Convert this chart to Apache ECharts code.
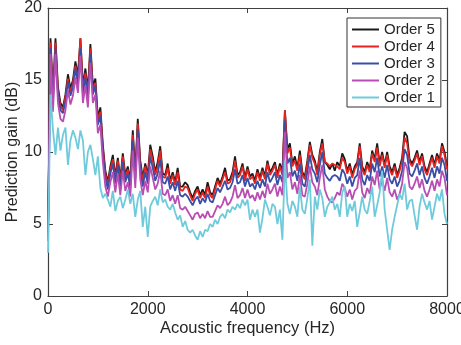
<!DOCTYPE html>
<html>
<head>
<meta charset="utf-8">
<script src="https://cdn.jsdelivr.net/npm/echarts@6/dist/echarts.min.js"></script>
<style>
  html, body { margin: 0; padding: 0; background: #fff; }
  #chart { width: 461px; height: 345px; }
</style>
</head>
<body>
<div id="chart"></div>
<script>
// frequency grid, Hz (one point every 50 Hz from 0 to 8000)
var freqStep = 50
var freqCount = 161

var seriesNames = ['Order 5', 'Order 4', 'Order 3', 'Order 2', 'Order 1']
var seriesColors = ['#1a1a1a', '#e8231f', '#3a4ea6', '#b84db3', '#6fcbdc']

// prediction gain, dB
var order5 = [4.5,17.9,14.0,17.9,14.5,13.4,13.1,14.0,15.4,14.4,
  15.0,16.3,15.3,17.9,14.6,15.8,14.3,17.5,14.6,15.1,
  12.4,13.1,10.5,8.7,7.9,9.0,9.8,8.3,9.6,8.1,
  9.9,8.4,9.0,8.0,11.5,8.6,12.3,9.4,8.2,9.2,
  8.4,10.5,9.7,8.6,9.3,10.4,8.5,8.4,9.2,8.0,
  8.6,7.9,8.9,7.6,7.6,7.9,7.7,7.2,6.8,7.3,
  7.6,7.0,7.4,7.0,7.9,7.2,7.0,7.6,8.2,7.8,
  8.3,8.9,8.0,8.1,8.6,9.7,8.4,8.6,9.2,8.2,
  9.0,8.3,8.5,8.0,8.8,8.2,8.9,8.3,9.4,8.6,
  8.9,9.3,8.4,9.2,8.6,12.9,10.2,10.6,9.2,9.7,
  8.9,10.1,8.6,8.3,9.4,10.7,9.8,9.4,8.6,10.0,
  10.9,9.3,9.1,8.8,9.2,8.7,9.3,9.0,9.9,9.5,
  8.7,9.2,8.4,9.0,9.3,10.6,9.0,8.6,9.3,8.8,
  10.1,9.5,10.6,9.2,10.0,9.1,10.0,9.0,8.6,9.2,
  8.4,8.9,9.6,11.4,11.1,9.5,9.2,9.6,10.1,9.3,
  9.9,9.0,8.6,9.2,9.8,9.1,9.9,9.4,10.6,10.0,
  9.0]

var order4 = [4.3,17.6,13.8,17.6,14.2,13.2,12.9,13.8,15.1,14.1,
  14.8,16.0,15.0,17.9,14.3,15.5,14.0,17.2,14.3,14.8,
  12.2,12.8,10.2,8.5,7.7,8.8,9.5,8.1,9.4,7.9,
  9.7,8.2,8.8,7.8,11.2,8.4,12.0,9.1,8.0,9.0,
  8.2,10.2,9.4,8.4,9.0,10.1,8.3,8.2,8.9,7.8,
  8.4,7.7,8.6,7.4,7.3,7.6,7.5,7.0,6.6,7.1,
  7.4,6.8,7.2,6.8,7.6,7.0,6.8,7.4,8.0,7.6,
  8.1,8.6,7.8,7.9,8.4,9.4,8.2,8.4,9.0,8.0,
  8.8,8.1,8.3,7.8,8.6,8.0,8.7,8.1,9.2,8.4,
  8.7,9.1,8.2,9.0,8.4,12.9,9.9,10.3,9.0,9.4,
  8.7,9.8,8.4,8.1,9.2,10.5,9.6,9.2,8.4,9.8,
  10.6,9.3,9.2,9.0,9.2,9.1,9.0,8.8,9.6,9.3,
  8.5,9.0,8.2,8.8,9.1,10.4,8.8,8.4,9.1,8.6,
  9.9,9.3,10.3,9.0,9.8,8.9,9.8,8.8,8.4,9.0,
  8.2,8.7,9.4,11.0,10.6,9.3,9.0,9.4,9.9,9.1,
  9.7,8.8,8.4,9.0,9.6,8.9,9.7,9.2,10.4,9.8,
  8.8]

var order3 = [4.0,17.2,13.5,17.2,14.0,12.9,12.7,13.5,14.9,13.9,
  14.5,15.8,14.7,17.2,14.0,15.2,13.7,16.8,14.0,14.6,
  11.9,12.5,9.9,8.2,7.4,8.5,9.2,7.8,9.1,7.6,
  9.3,7.9,8.5,7.5,10.8,8.1,11.6,8.7,7.6,8.6,
  7.8,9.7,8.9,8.0,8.5,9.5,7.9,7.8,8.3,7.4,
  7.9,7.3,8.0,7.0,6.9,7.1,6.9,6.6,6.3,6.7,
  6.9,6.4,6.8,6.5,7.1,6.6,6.5,7.0,7.5,7.2,
  7.6,8.0,7.4,7.5,7.9,8.8,7.8,7.9,8.4,7.6,
  8.2,7.6,7.8,7.4,8.0,7.5,8.1,7.6,8.6,7.9,
  8.2,8.6,7.7,8.4,7.9,12.2,9.2,9.6,8.3,8.7,
  8.0,9.2,7.8,7.6,8.6,9.8,8.8,8.5,7.9,9.1,
  10.0,8.5,8.2,8.0,8.3,8.4,8.3,8.0,8.8,8.5,
  7.8,8.3,7.6,8.2,8.4,9.6,8.1,7.7,8.4,8.0,
  9.2,8.6,9.6,8.3,9.0,8.2,9.1,8.1,7.8,8.3,
  7.6,8.0,8.7,10.2,9.8,8.5,8.3,8.7,9.2,8.4,
  9.0,8.2,7.8,8.3,8.9,8.2,9.0,8.5,9.6,9.1,
  8.0]

var order2 = [3.8,16.8,12.8,16.8,13.4,12.3,12.1,12.9,14.3,13.3,
  13.9,15.2,14.1,16.7,13.4,14.6,13.1,16.2,13.4,14.0,
  11.3,11.9,9.3,7.6,6.9,7.9,8.6,7.2,8.5,7.0,
  8.7,7.3,7.9,6.9,10.1,7.5,11.0,8.1,7.0,8.0,
  7.2,9.0,8.2,7.4,7.8,8.7,7.1,7.0,7.4,6.6,
  7.0,6.4,7.0,6.1,6.0,6.2,5.9,5.6,5.3,5.7,
  5.8,5.4,5.7,5.4,5.9,5.5,5.5,5.9,6.3,6.1,
  6.4,6.9,6.3,6.5,6.9,7.7,6.8,7.0,7.5,6.8,
  7.4,6.8,7.0,6.6,7.2,6.7,7.3,6.8,7.8,7.1,
  7.4,7.8,6.9,7.6,7.0,11.4,8.2,8.6,7.4,7.9,
  7.1,8.4,7.0,6.9,7.8,9.0,7.9,7.6,7.0,8.2,
  9.1,7.4,6.9,6.6,6.5,6.8,7.2,7.0,7.8,7.5,
  6.9,7.4,6.7,7.3,7.5,8.7,7.2,6.8,7.5,7.1,
  8.3,7.7,8.7,7.4,8.1,7.3,8.2,7.2,6.9,7.4,
  6.7,7.1,7.8,9.3,8.9,7.6,7.4,7.8,8.3,7.5,
  8.1,7.3,6.9,7.4,8.0,7.3,8.1,7.6,8.7,8.2,
  7.0]

var order1 = [3.0,14.0,11.5,9.8,11.7,10.1,11.2,11.7,9.1,10.8,
  11.5,11.0,10.2,11.5,10.8,8.4,10.0,10.5,9.5,8.4,
  9.7,7.5,6.8,7.1,6.7,6.2,7.3,5.9,6.6,6.9,
  6.1,6.7,7.4,6.4,7.1,5.5,6.7,7.3,4.8,6.2,
  4.1,6.2,6.6,6.9,6.3,7.4,6.5,6.7,6.2,6.0,
  6.4,5.8,5.3,5.6,4.8,5.2,4.6,4.4,4.6,4.2,
  3.9,4.5,4.1,4.6,4.5,5.0,4.8,5.3,5.0,5.5,
  5.7,5.4,6.0,5.8,6.2,6.0,6.4,6.1,6.7,6.3,
  6.7,5.3,6.0,5.5,6.0,4.4,5.4,6.7,6.2,5.6,
  6.4,6.2,5.0,6.0,3.9,9.4,6.4,5.7,6.6,6.2,
  5.5,7.6,6.0,5.7,6.8,8.1,3.5,6.9,6.0,7.4,
  6.8,5.5,6.2,6.5,6.9,6.0,6.4,5.5,7.2,7.6,
  5.5,6.4,5.9,6.6,4.8,5.8,6.9,6.0,5.7,6.6,
  7.6,5.5,6.3,7.2,8.7,6.0,4.6,3.2,4.6,5.5,
  6.3,7.1,6.7,7.8,6.0,6.6,6.7,5.6,4.6,6.2,
  7.1,6.5,6.0,6.6,5.3,6.2,7.1,6.6,7.4,5.7,
  5.0]

var allOrders = [order5, order4, order3, order2, order1]
var textColor = '#262626'
var axisColor = '#404040'
var font = 'Liberation Sans, Arial, Helvetica, sans-serif'

function toPairs(values) {
  var out = []
  for (var i = 0; i < freqCount; i++) {
    out.push([i * freqStep, values[i]])
  }
  return out
}

var chart = echarts.init(document.getElementById('chart'))

var axisBase = {
  type: 'value',
  axisLine: { show: true, onZero: false, lineStyle: { color: axisColor, width: 1.2 } },
  axisTick: { show: true, inside: true, length: 5, lineStyle: { color: axisColor } },
  splitLine: { show: false }
}

chart.setOption({
  backgroundColor: '#fff',
  animation: false,
  grid: {
    left: 48,
    right: 14,
    top: 8,
    bottom: 49,
    containLabel: false,
    outerBoundsMode: 'none'
  },
  legend: {
    orient: 'vertical',
    left: 347,
    top: 18,
    data: seriesNames,
    icon: 'rect',
    itemWidth: 27,
    itemHeight: 2,
    itemGap: 2,
    padding: [4, 6, 2, 5],
    borderColor: '#333',
    borderWidth: 1,
    backgroundColor: '#fff',
    textStyle: {
      color: textColor,
      fontSize: 15,
      fontFamily: font,
      lineHeight: 15
    }
  },
  xAxis: [
    Object.assign({}, axisBase, {
      min: 0,
      max: 8000,
      interval: 2000,
      position: 'bottom',
      name: 'Acoustic frequency (Hz)',
      nameLocation: 'middle',
      nameGap: 24,
      nameMoveOverlap: false,
      nameTextStyle: { color: textColor, fontSize: 16.5, fontFamily: font },
      axisLabel: {
        color: textColor, fontSize: 16, fontFamily: font, margin: 6,
        formatter: function(v) { return String(v) }
      }
    }),
    Object.assign({}, axisBase, {
      min: 0,
      max: 8000,
      interval: 2000,
      position: 'top',
      axisLabel: { show: false }
    })
  ],
  yAxis: [
    Object.assign({}, axisBase, {
      min: 0,
      max: 20,
      interval: 5,
      position: 'left',
      name: 'Prediction gain (dB)',
      nameLocation: 'middle',
      nameGap: 27,
      nameMoveOverlap: false,
      nameTextStyle: { color: textColor, fontSize: 16, fontFamily: font },
      axisLabel: { color: textColor, fontSize: 16, fontFamily: font, margin: 6 }
    }),
    Object.assign({}, axisBase, {
      min: 0,
      max: 20,
      interval: 5,
      position: 'right',
      axisLabel: { show: false }
    })
  ],
  series: seriesNames.map(function(name, k) {
    return {
      name: name,
      type: 'line',
      xAxisIndex: 0,
      yAxisIndex: 0,
      showSymbol: false,
      symbol: 'none',
      lineStyle: { color: seriesColors[k], width: 1.8 },
      itemStyle: { color: seriesColors[k] },
      data: toPairs(allOrders[k])
    }
  })
})
</script>
</body>
</html>
